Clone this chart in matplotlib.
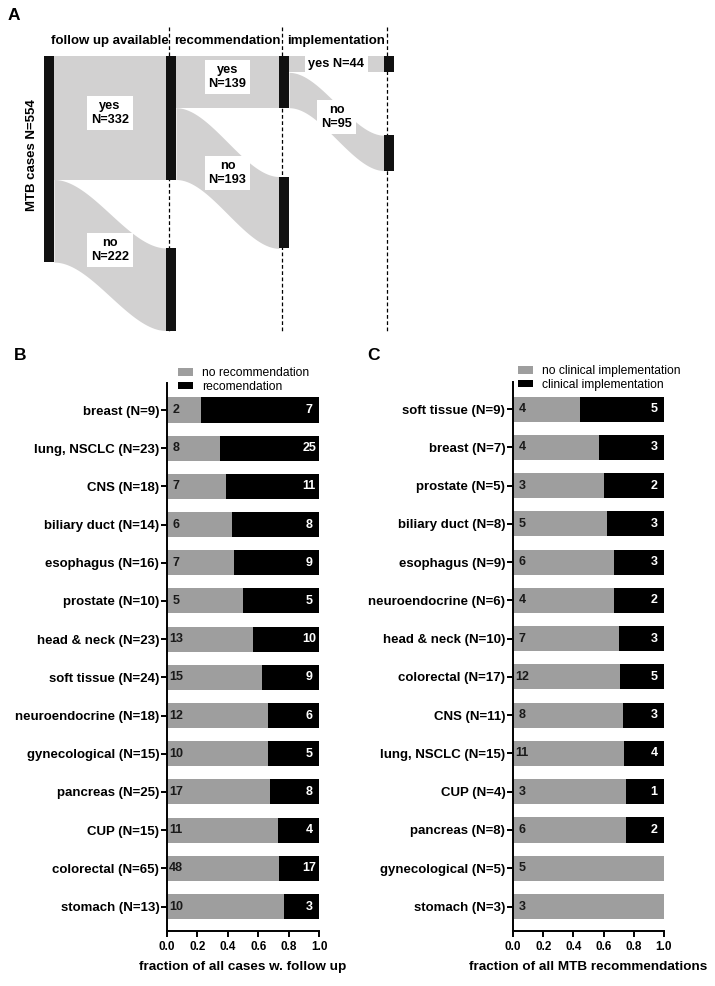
import numpy as np
import matplotlib
matplotlib.use('Agg')
import matplotlib.pyplot as plt
from matplotlib.patches import Patch

plt.rcParams['font.family'] = ['Liberation Sans', 'DejaVu Sans']

# ---- data, panel A (sankey) ----
total = 554
follow = [332, 222]      # yes, no
rec = [139, 193]         # yes, no
impl = [44, 95]          # yes, no
stages = ['follow up available', 'recommendation', 'implementation']

# ---- data, panel B ----
b_cats = ['breast (N=9)', 'lung, NSCLC (N=23)', 'CNS (N=18)', 'biliary duct (N=14)',
          'esophagus (N=16)', 'prostate (N=10)', 'head & neck (N=23)', 'soft tissue (N=24)',
          'neuroendocrine (N=18)', 'gynecological (N=15)', 'pancreas (N=25)', 'CUP (N=15)',
          'colorectal (N=65)', 'stomach (N=13)']
b_n = [9, 23, 18, 14, 16, 10, 23, 24, 18, 15, 25, 15, 65, 13]
b_no = [2, 8, 7, 6, 7, 5, 13, 15, 12, 10, 17, 11, 48, 10]
b_yes = [7, 25, 11, 8, 9, 5, 10, 9, 6, 5, 8, 4, 17, 3]

# ---- data, panel C ----
c_cats = ['soft tissue (N=9)', 'breast (N=7)', 'prostate (N=5)', 'biliary duct (N=8)',
          'esophagus (N=9)', 'neuroendocrine (N=6)', 'head & neck (N=10)', 'colorectal (N=17)',
          'CNS (N=11)', 'lung, NSCLC (N=15)', 'CUP (N=4)', 'pancreas (N=8)',
          'gynecological (N=5)', 'stomach (N=3)']
c_n = [9, 7, 5, 8, 9, 6, 10, 17, 11, 15, 4, 8, 5, 3]
c_no = [4, 4, 3, 5, 6, 4, 7, 12, 8, 11, 3, 6, 5, 3]
c_yes = [5, 3, 2, 3, 3, 2, 3, 5, 3, 4, 1, 2, 0, 0]

GRAY = '#9e9e9e'
FLOW = '#d2d1d1'
NODE = '#111111'
W, H = 715, 986

fig = plt.figure(figsize=(W / 100, H / 100), dpi=100)


def px_axes(l, t, r, b):
    return fig.add_axes([l / W, 1 - b / H, (r - l) / W, (b - t) / H])


# ================= panel A =================
axa = fig.add_axes([0, 1 - 340 / H, 1, 340 / H])
y0px, scl = 56, 0.372          # px of y=0, px per case
axa.set_xlim(0, W)
axa.set_ylim((340 - y0px) / scl, -y0px / scl)
axa.axis('off')


def c(px):
    return (px - y0px) / scl


col_x = [44, 166, 279, 384]
nw = 10
gaps = [184, 185, 169]


def flow(x0, x1, a0, b0, a1, b1):
    t = np.linspace(0, 1, 200)
    s = 3 * t ** 2 - 2 * t ** 3
    xs = x0 + (x1 - x0) * t
    axa.fill_between(xs, a0 + (a1 - a0) * s, b0 + (b1 - b0) * s,
                     color=FLOW, lw=0, zorder=1)
    return x0 + (x1 - x0) / 2, (a0 + a1 + b0 + b1) / 4


def node(x, y, h):
    axa.bar(x, h, bottom=y, width=nw, align='edge', color=NODE, lw=0, zorder=3)


def lab(xy, txt, dy=-13):
    axa.text(xy[0], xy[1] + dy, txt, ha='center', va='center', fontsize=9.2,
             fontweight='bold', zorder=4, linespacing=1.25,
             bbox=dict(boxstyle='square,pad=0.3', fc='white', ec='none'))


# node positions (top of yes nodes at 0, no nodes below a gap)
pairs = [follow, rec, impl]
node(col_x[0], 0, total)
for i, (yes, no) in enumerate(pairs):
    xs0 = col_x[i] + nw
    xs1 = col_x[i + 1]
    no_top = yes + gaps[i]
    node(xs1, 0, yes)
    node(xs1, no_top, no)
    p1 = flow(xs0, xs1, 0, yes, 0, yes)
    p2 = flow(xs0, xs1, yes, yes + no, no_top, no_top + no)
    if i == 2:
        lab(p1, 'yes N=%d' % yes, dy=0)
    else:
        lab(p1, 'yes\nN=%d' % yes)
    lab(p2, 'no\nN=%d' % no)
    axa.text((xs0 + xs1) / 2, c(41), stages[i], ha='center', va='center',
             fontsize=9.5, fontweight='bold')

for x in col_x[1:]:
    axa.plot([x + 3, x + 3], [c(27), c(331)], color='black', lw=0.9,
             ls=(0, (3, 2)), zorder=2)

axa.text(32, total / 2 - 10, 'MTB cases N=%d' % total, rotation=90, ha='center',
         va='center', fontsize=9.5, fontweight='bold')


# ================= panels B and C =================
def stacked(ax, cats, n, no, yes, labels, xlabel, hx, hy):
    n = np.array(n, float)
    frac_no = np.array(no) / n
    y = np.arange(len(cats))
    ax.barh(y, frac_no, height=0.655, color=GRAY, lw=0)
    ax.barh(y, 1 - frac_no, left=frac_no, height=0.655, color='black', lw=0)
    for i in range(len(cats)):
        ax.text(0.06, y[i], str(no[i]), ha='center', va='center', fontsize=9,
                fontweight='bold', color='#1a1a1a')
        if yes[i] > 0:
            ax.text(0.935, y[i], str(yes[i]), ha='center', va='center', fontsize=9,
                    fontweight='bold', color='white')
    ax.set_xlim(0, 1)
    ax.set_ylim(len(cats) - 1 + 0.64, -0.707)
    ax.set_yticks(y)
    ax.set_yticklabels(cats, fontsize=9.5, fontweight='bold')
    ax.set_xticks(np.arange(0, 1.01, 0.2))
    ax.set_xticklabels(['%.1f' % v for v in np.arange(0, 1.01, 0.2)],
                       fontsize=8.5, fontweight='bold')
    ax.set_xlabel(xlabel, fontsize=9.7, fontweight='bold', labelpad=6)
    for s in ['top', 'right']:
        ax.spines[s].set_visible(False)
    for s in ['left', 'bottom']:
        ax.spines[s].set_linewidth(1.4)
    ax.tick_params(axis='y', length=4, width=1.4, pad=1.5)
    ax.tick_params(axis='x', length=4, width=1.4, pad=3)
    ax.legend([Patch(color=GRAY, lw=0), Patch(color='black', lw=0)], labels,
              loc='upper left', bbox_to_anchor=(hx, hy), frameon=False,
              fontsize=8.7, handlelength=1.25, handleheight=0.6,
              handletextpad=0.75, labelspacing=0.15, borderpad=0, borderaxespad=0)


axb = px_axes(167, 383, 319, 931)
stacked(axb, b_cats, b_n, b_no, b_yes, ['no recommendation', 'recomendation'],
        'fraction of all cases w. follow up', 0.072, 1.029)

axc = px_axes(513, 382, 664, 931)
stacked(axc, c_cats, c_n, c_no, c_yes,
        ['no clinical implementation', 'clinical implementation'],
        'fraction of all MTB recommendations', 0.033, 1.031)

fig.text(14 / W, 1 - 16 / H, 'A', ha='center', va='center', fontsize=12.5, fontweight='bold')
fig.text(20 / W, 1 - 355 / H, 'B', ha='center', va='center', fontsize=12.5, fontweight='bold')
fig.text(373 / W, 1 - 355 / H, 'C', ha='center', va='center', fontsize=12.5, fontweight='bold')

fig.savefig('out.png', dpi=100)
